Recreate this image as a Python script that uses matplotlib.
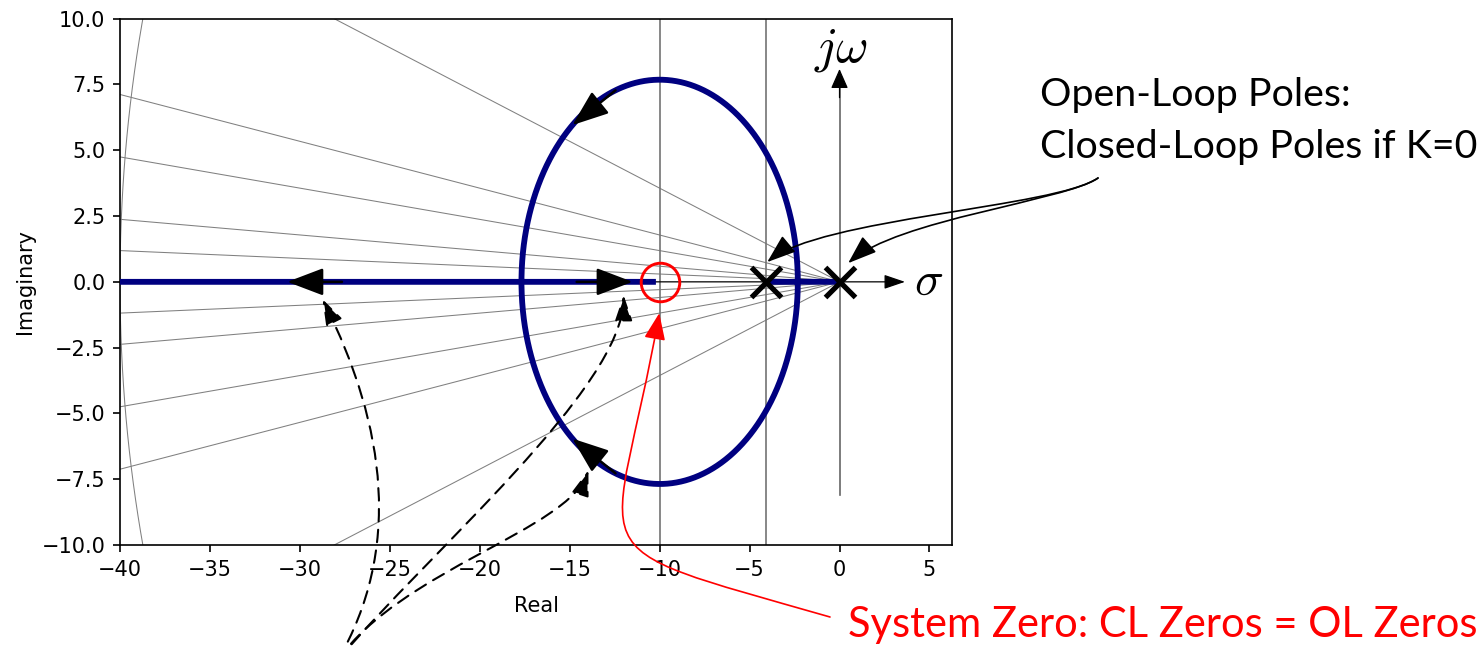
import numpy as np
import matplotlib
matplotlib.use("Agg")
import matplotlib.pyplot as plt
from matplotlib.patches import ConnectionStyle
from matplotlib.path import Path

# ---- open-loop system  L(s) = K (s - z) / ((s - p1)(s - p2)) ----
ol_poles = [0.0, -4.1]
ol_zeros = [-10.0]
k_max = 300.0

# ---- s-plane grid: slopes of constant-damping rays, natural-frequency arc ----
zeta_ray_slopes = [0.0297, 0.0594, 0.1187, 0.178, 0.356]
wn_arcs = [40.0]
guide_lines_x = [-10.0, -4.1]

# direction-of-travel arrows on the locus: (branch, gain at tail, gain at head)
flow_arrows = [(0, 20.8, 25.6), (1, 20.8, 25.6), (1, 36.9, 39.45), (0, 33.3, 56.7)]

x_ticks = np.arange(-40, 6, 5)
y_ticks = np.arange(-10, 10.1, 2.5)
x_range = (-40, 6.27)
y_range = (-10, 10)

note_font = ["Lato", "DejaVu Sans"]


class CubicConnection(ConnectionStyle._Base):
    """Cubic Bezier connector leaving A at angleA and arriving at B along angleB."""

    def __init__(self, angleA, angleB, armA, armB):
        self.angleA, self.angleB = angleA, angleB
        self.armA, self.armB = armA, armB

    def connect(self, posA, posB):
        (xa, ya), (xb, yb) = posA, posB
        span = np.hypot(xb - xa, yb - ya)
        ta, tb = np.radians(self.angleA), np.radians(self.angleB)
        c1 = (xa + self.armA * span * np.cos(ta), ya + self.armA * span * np.sin(ta))
        c2 = (xb - self.armB * span * np.cos(tb), yb - self.armB * span * np.sin(tb))
        return Path([posA, c1, c2, posB],
                    [Path.MOVETO, Path.CURVE4, Path.CURVE4, Path.CURVE4])


num = np.poly(ol_zeros)
den = np.poly(ol_poles)


def closed_loop_roots(k):
    r = np.roots(np.polyadd(den, k * num)).astype(complex)
    return sorted(r, key=lambda c: (-round(c.imag, 9), -c.real))


# breakaway / break-in gains: roots of d/ds [den/num] = 0
crit = np.roots(np.polysub(np.polymul(np.polyder(den), num),
                           np.polymul(den, np.polyder(num))))
crit = crit[np.isreal(crit)].real
k_break = -np.polyval(den, crit) / np.polyval(num, crit)
k_break = k_break[k_break > 0]

eps = np.geomspace(1e-12, 0.05, 400)
gains = [[0.0], np.geomspace(1e-5, k_max, 20000)]
for kb in k_break:
    gains += [kb * (1 - eps), kb * (1 + eps), [kb]]
gains = np.unique(np.concatenate(gains))
branches = np.array([closed_loop_roots(k) for k in gains]).T

W, H, DPI = 1481, 647, 150
fig = plt.figure(figsize=((W + 0.01) / DPI, (H + 0.01) / DPI), dpi=DPI)
ax = fig.add_axes([120 / W, 1 - 545 / H, (952.3 - 120) / W, (545 - 18.7) / H])

# constant-damping rays and natural-frequency arc
far = 100.0
for m in zeta_ray_slopes:
    for sgn in (1, -1):
        ax.plot([0, -far], [0, sgn * m * far], color="gray", lw=0.5, zorder=1)
theta = np.linspace(np.pi / 2, 3 * np.pi / 2, 400)
for wn in wn_arcs:
    ax.plot(wn * np.cos(theta), wn * np.sin(theta), color="gray", lw=0.5, zorder=1)
for xv in guide_lines_x:
    ax.axvline(xv, color="0.45", lw=0.8, zorder=1)

# sigma and j-omega axes
ax.annotate("", xy=(3.64, 0), xytext=(-40, 0),
            arrowprops=dict(arrowstyle="-|>,head_length=1.0,head_width=0.34",
                            mutation_scale=8.6, color="k", lw=0.6,
                            shrinkA=0, shrinkB=0), zorder=1.5)
ax.plot([0, 0], [-8.11, 7.6], color="0.4", lw=0.8, zorder=1.5)
ax.annotate("", xy=(0, 8.09), xytext=(0, 7.0),
            arrowprops=dict(arrowstyle="-|>,head_length=1.0,head_width=0.44",
                            mutation_scale=8.1, color="k", lw=0.6,
                            shrinkA=0, shrinkB=0), zorder=1.5)
ax.text(4.93, 0.04, r"$\sigma$", fontsize=23, ha="center", va="center",
        math_fontfamily="cm")
ax.text(0.08, 8.82, r"$j\omega$", fontsize=24, ha="center", va="center",
        math_fontfamily="cm")

# root locus branches
for br in branches:
    ax.plot(br.real, br.imag, color="navy", lw=2.8, zorder=3,
            solid_capstyle="butt")

for b, k0, k1 in flow_arrows:
    p0 = closed_loop_roots(k0)[b]
    p1 = closed_loop_roots(k1)[b]
    ax.annotate("", xy=(p1.real, p1.imag), xytext=(p0.real, p0.imag),
                arrowprops=dict(arrowstyle="-|>,head_length=1.0,head_width=0.38",
                                mutation_scale=15, color="k", lw=1.2,
                                shrinkA=0, shrinkB=0), zorder=4)

# open-loop poles and zero
ax.plot(np.real(ol_poles), np.imag(ol_poles), "x", color="k", ms=14, mew=2.5,
        zorder=5)
ax.plot(np.real(ol_zeros), np.imag(ol_zeros), "o", mfc="none", mec="red",
        ms=18.5, mew=1.4, zorder=5)

ax.set_xlim(*x_range)
ax.set_ylim(*y_range)
ax.set_xticks(x_ticks)
ax.set_yticks(y_ticks)
ax.set_xlabel("Real", labelpad=8)
ax.set_ylabel("Imaginary", labelpad=3)

# dashed pointers from a caption below the frame
dash_src = (338 / W, 1 - 660 / H)
dash_targets = [(-28.74, -0.66, 60, 116.6, 0.35, 0.4),
                (-12.0, -0.51, 50, 90, 0.3, 0.2),
                (-13.96, -7.16, 55, 71.6, 0.35, 0.2)]
for tx, ty, a_in, a_out, arm_a, arm_b in dash_targets:
    ax.annotate("", xy=(tx, ty), xytext=dash_src, textcoords="figure fraction",
                annotation_clip=False,
                arrowprops=dict(arrowstyle="-|>,head_length=1.0,head_width=0.34",
                                mutation_scale=10.5, color="k", lw=1.0,
                                ls=(0, (6, 4)), shrinkA=0, shrinkB=0,
                                connectionstyle=CubicConnection(a_in, a_out, arm_a, arm_b)),
                zorder=6)

# open-loop pole note
pole_src = (1098 / W, 1 - 178 / H)
for tx, ty, a_in, a_out, arm_a, arm_b in [(-4.02, 0.75, 215, 220, 0.15, 0.2),
                                           (0.48, 0.71, 215, 221.6, 0.15, 0.25)]:
    ax.annotate("", xy=(tx, ty), xytext=pole_src, textcoords="figure fraction",
                annotation_clip=False,
                arrowprops=dict(arrowstyle="-|>,head_length=1.0,head_width=0.36",
                                mutation_scale=12, color="k", lw=0.8,
                                shrinkA=0, shrinkB=0,
                                connectionstyle=CubicConnection(a_in, a_out, arm_a, arm_b)),
                zorder=6)
fig.text(1040 / W, 1 - 158 / H, "Open-Loop Poles:\nClosed-Loop Poles if K=0",
         fontsize=18.9, family=note_font, color="k", ha="left", va="baseline",
         linespacing=1.55)

# system zero note
ax.annotate("", xy=(-10.02, -1.19), xytext=(830 / W, 1 - 617 / H),
            textcoords="figure fraction", annotation_clip=False,
            arrowprops=dict(arrowstyle="-|>,head_length=1.0,head_width=0.4",
                            mutation_scale=11, color="red", lw=0.8,
                            shrinkA=0, shrinkB=0,
                            connectionstyle=CubicConnection(164, 80, 0.8, 0.75)),
            zorder=6)
fig.text(848 / W, 1 - 637 / H, "System Zero: CL Zeros = OL Zeros",
         fontsize=20, family=note_font, color="red", ha="left", va="baseline")

fig.savefig("out.png", dpi=DPI)
